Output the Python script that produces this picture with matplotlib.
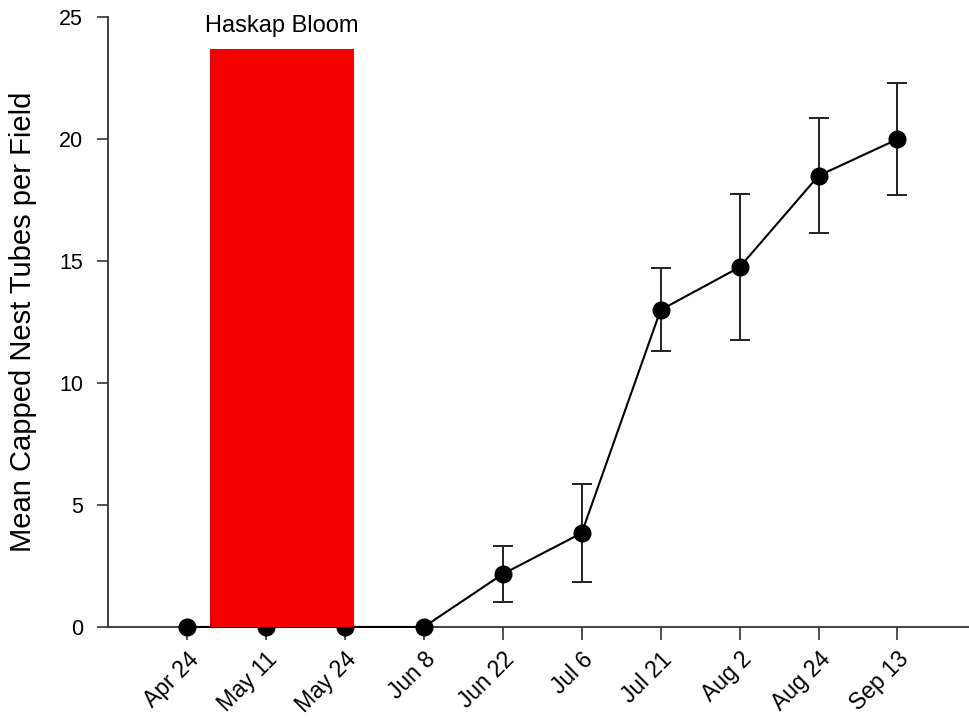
import matplotlib.pyplot as plt
import matplotlib.transforms as mtransforms
import numpy as np

plt.rcParams['font.family'] = ['Liberation Sans', 'DejaVu Sans']

dates = ['Apr 24', 'May 11', 'May 24', 'Jun 8', 'Jun 22', 'Jul 6',
         'Jul 21', 'Aug 2', 'Aug 24', 'Sep 13']
mean_tubes = [0, 0, 0, 0, 2.17, 3.85, 13.0, 14.75, 18.5, 20.0]
err = [0, 0, 0, 0, 1.15, 2.0, 1.7, 3.0, 2.35, 2.3]

# bloom period, in category units
bloom_start = 0.29
bloom_end = 2.11
bloom_height = 23.7

x = np.arange(len(dates))

fig = plt.figure(figsize=(9.69, 7.19), dpi=100)
ax = fig.add_axes([0.1115, 0.128, 0.888, 0.848])

ax.errorbar(x, mean_tubes, yerr=[e if e > 0 else np.nan for e in err],
            color='black', lw=1.5, marker='o', ms=12, capsize=7,
            elinewidth=1.4, capthick=1.4, ecolor='#222222', zorder=3,
            clip_on=False)
ax.bar((bloom_start + bloom_end) / 2, bloom_height,
       width=bloom_end - bloom_start, color='#f20000', zorder=4)
ax.text((bloom_start + bloom_end) / 2, bloom_height + 0.5, 'Haskap Bloom',
        ha='center', va='bottom', fontsize=17)

ax.set_xlim(-1, 9.9)
ax.set_ylim(0, 25)
ax.set_yticks([0, 5, 10, 15, 20, 25])
ax.set_xticks(x)
ax.set_xticklabels(dates, rotation=45, ha='right', rotation_mode='anchor',
                   fontsize=16.5)
shift = mtransforms.ScaledTranslation(0.13, -0.08, fig.dpi_scale_trans)
for lab in ax.get_xticklabels():
    lab.set_transform(lab.get_transform() + shift)
ax.tick_params(axis='y', labelsize=15.5, length=8, width=1.2,
               color='#333333', pad=10)
ax.tick_params(axis='x', length=9, width=1.2, color='#333333', pad=6)
ax.set_ylabel('Mean Capped Nest Tubes per Field', fontsize=21, labelpad=16)

for s in ['top', 'right']:
    ax.spines[s].set_visible(False)
for s in ['left', 'bottom']:
    ax.spines[s].set_linewidth(1.3)
    ax.spines[s].set_color('#333333')

fig.savefig('out.png', dpi=100)
